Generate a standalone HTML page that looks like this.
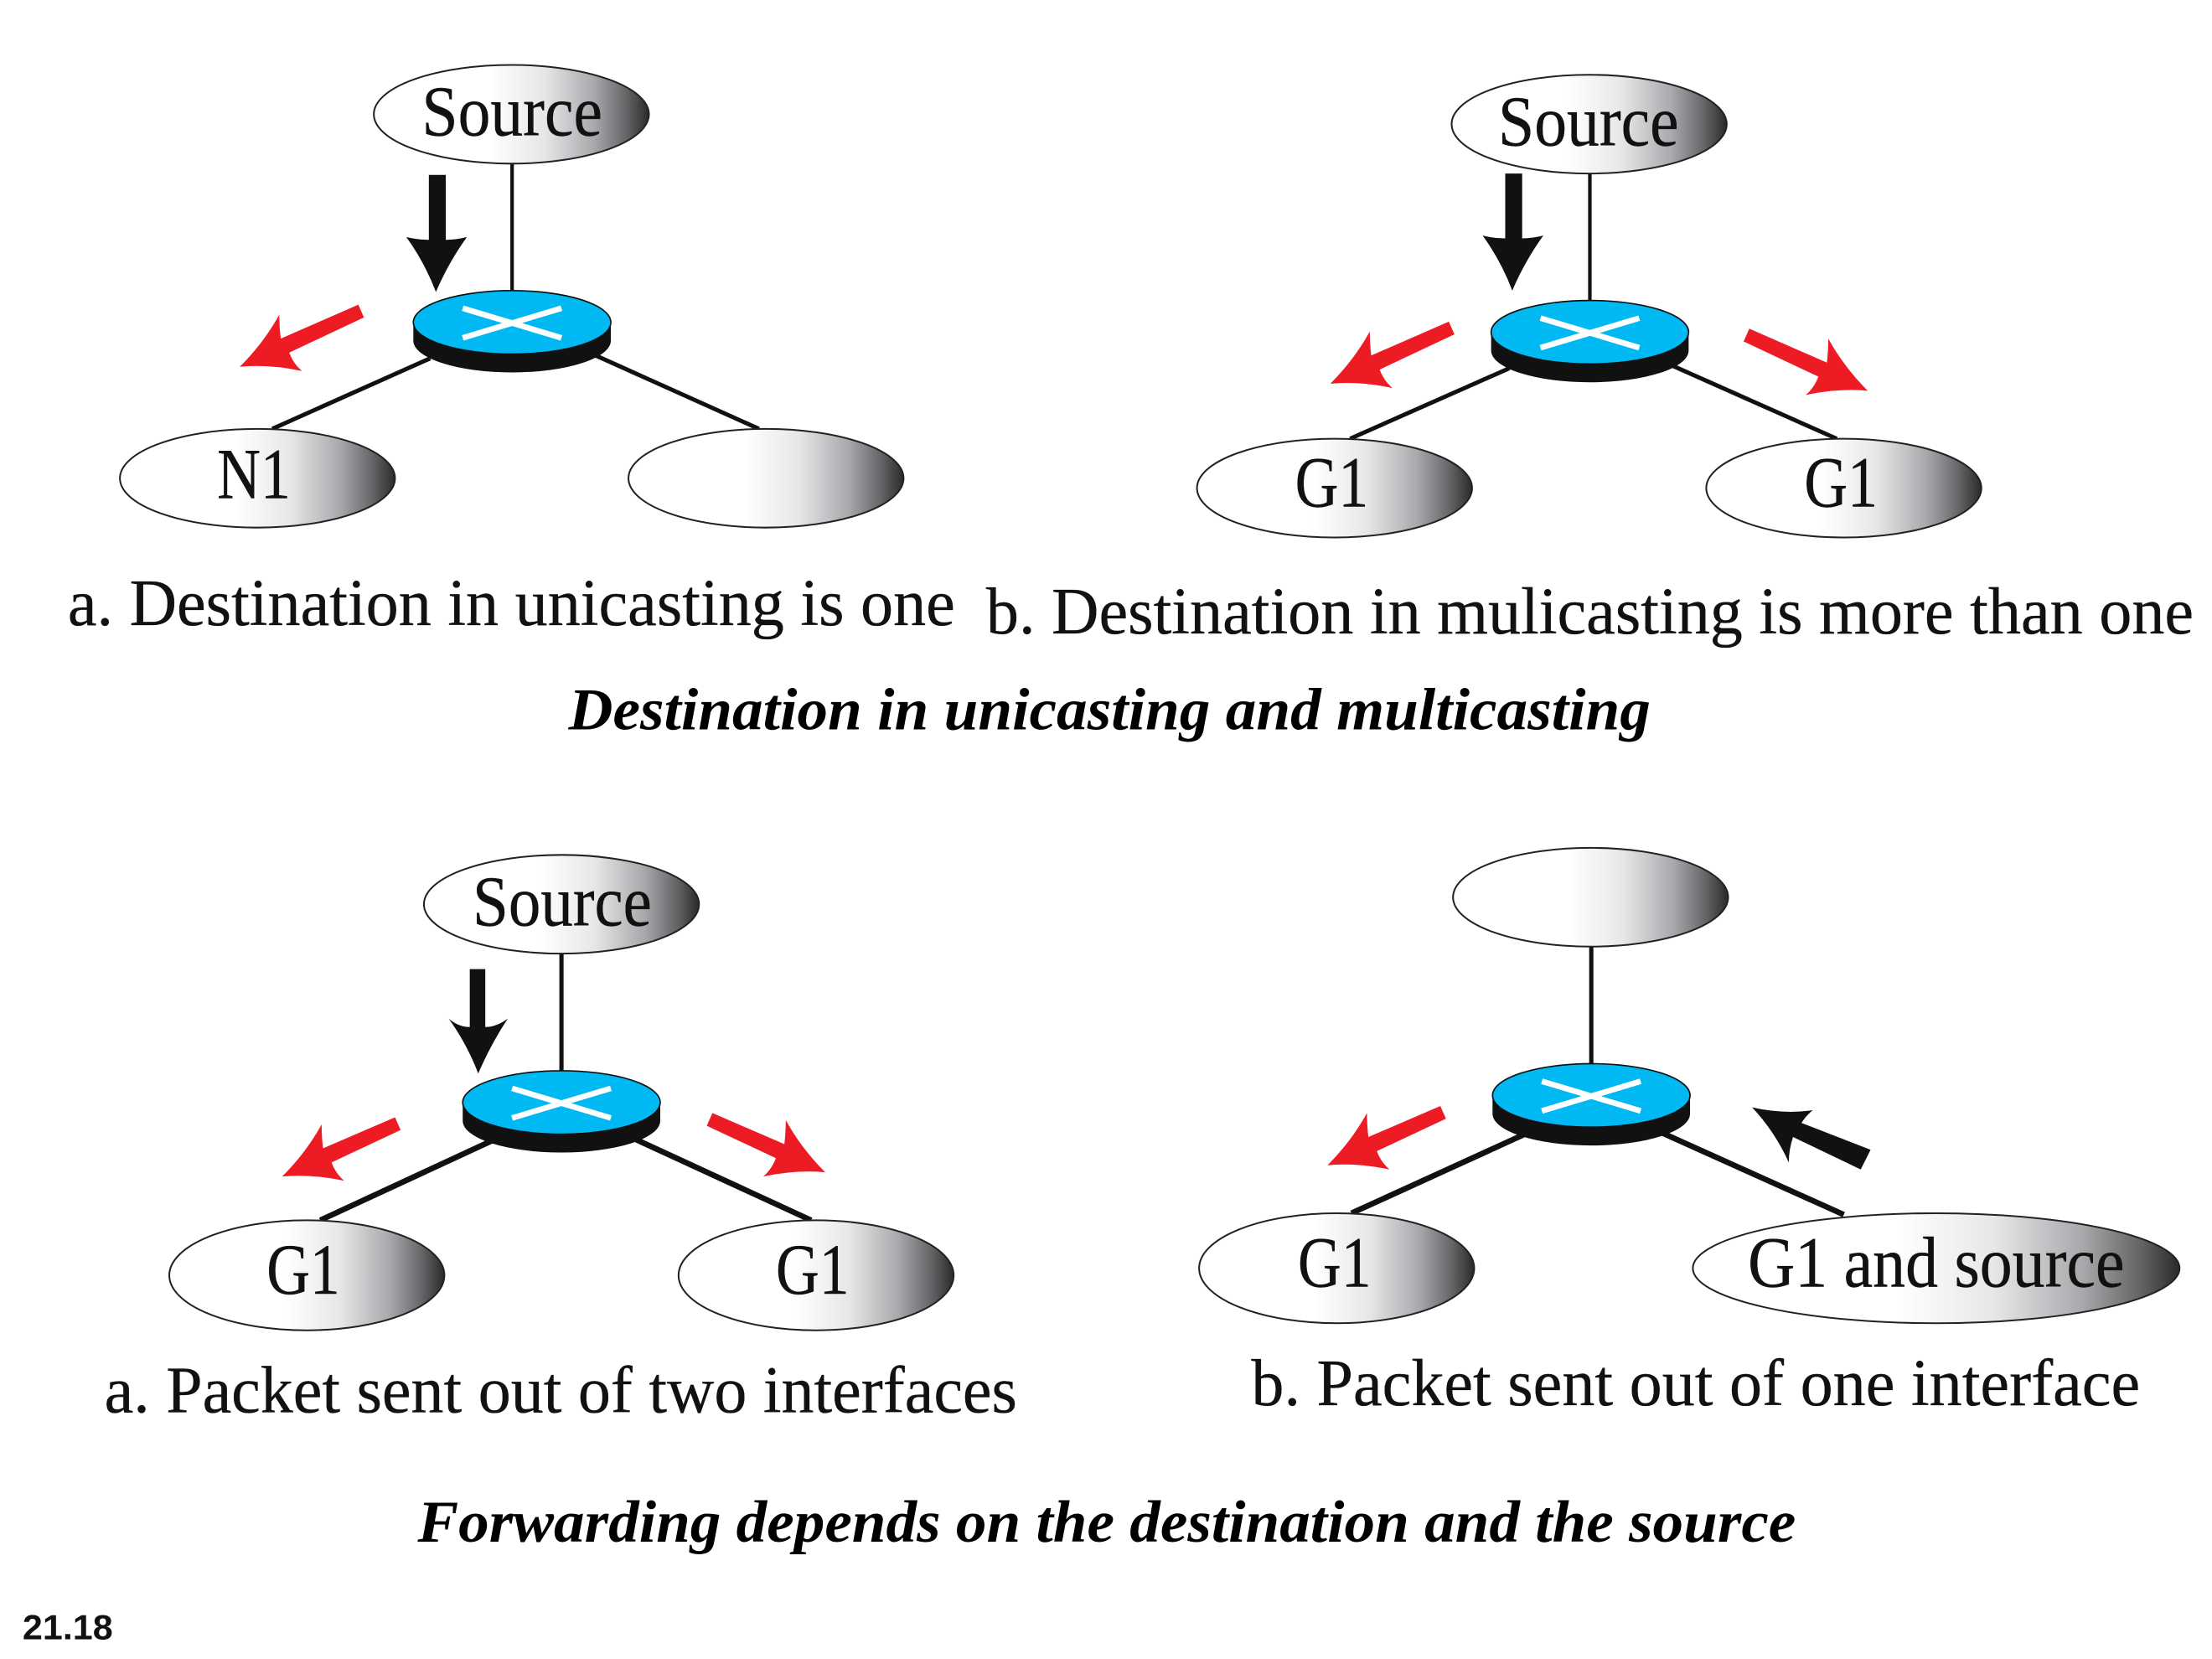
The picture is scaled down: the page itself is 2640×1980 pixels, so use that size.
<!DOCTYPE html>
<html><head><meta charset="utf-8"><style>
html,body{margin:0;padding:0;background:#fff}
svg{display:block}
text{font-family:"Liberation Serif",serif;fill:#111}
.n{font-size:51px;stroke:#111;stroke-width:.25px}
.c{font-size:47px;stroke:#111;stroke-width:.2px}
.t{font-size:42px;font-weight:bold;font-style:italic;fill:#000}
</style></head><body>
<svg width="2640" height="1980" viewBox="0 0 1568 1176" xmlns="http://www.w3.org/2000/svg">
<defs>
<linearGradient id="g" x1="0" x2="1" y1="0" y2="0">
<stop offset="0" stop-color="#fff"/><stop offset=".42" stop-color="#fff"/><stop offset=".62" stop-color="#e6e7e8"/><stop offset=".8" stop-color="#a7a9ac"/><stop offset=".92" stop-color="#636466"/><stop offset="1" stop-color="#2a2a2a"/>
</linearGradient>
<g id="r">
<path d="M-70 0V13A70 22.5 0 0 0 70 13V0Z" fill="#111"/>
<ellipse rx="70" ry="22.5" fill="#00b9f2" stroke="#111" stroke-width="1"/>
<path d="M-35 -10L35 11M-35 11L35 -10" stroke="#fff" stroke-width="4"/>
</g>
<path id="red" d="M254 216L258 225L205 250Q208 258 214 263Q190 258 170 260Q187 243 198 223Q198 232 199 240Z" fill="#ed1c24"/>
<path id="red2" d="M250 218L254 227L205 250Q208 258 214 263Q190 258 170 260Q187 243 198 223Q198 232 199 240Z" fill="#ed1c24"/>
<path id="blk" d="M304 124H316V170Q323 170 331 168Q318 186 309 207Q301 186 288 168Q296 170 304 170Z" fill="#111"/>
</defs>

<g stroke="#111" fill="none">
<path d="M363 116V206" stroke-width="2.5"/>
<path d="M193 304L305 254M538 304L420 251" stroke-width="3"/>
<path d="M1127 123V213" stroke-width="2.5"/>
<path d="M957 311L1070 261M1302 311L1185 259" stroke-width="3"/>
<path d="M398 676V759" stroke-width="3"/>
<path d="M227 865L350 808M575 865L447 806" stroke-width="4"/>
<path d="M1128 671V754" stroke-width="3"/>
<path d="M958 860L1083 803M1307 861L1178 803" stroke-width="4"/>
</g>

<g fill="url(#g)" stroke="#222" stroke-width="1.2">
<ellipse cx="362.500" cy="81" rx="97.500" ry="35"/>
<ellipse cx="182.500" cy="339" rx="97.500" ry="35"/>
<ellipse cx="543" cy="339" rx="97.500" ry="35"/>
<ellipse cx="1126.500" cy="88" rx="97.500" ry="35"/>
<ellipse cx="946" cy="346" rx="97.500" ry="35"/>
<ellipse cx="1307" cy="346" rx="97.500" ry="35"/>
<ellipse cx="398" cy="641" rx="97.500" ry="35"/>
<ellipse cx="217.500" cy="904" rx="97.500" ry="39"/>
<ellipse cx="578.500" cy="904" rx="97.500" ry="39"/>
<ellipse cx="1127.500" cy="636" rx="97.500" ry="35"/>
<ellipse cx="947.500" cy="899" rx="97.500" ry="39"/>
<ellipse cx="1372.500" cy="899" rx="172.500" ry="39"/>
</g>

<use href="#r" x="363" y="228.500"/>
<use href="#r" x="1127" y="235.500"/>
<use href="#r" x="398" y="781.500"/>
<use href="#r" x="1128" y="776.500"/>

<use href="#blk"/>
<use href="#blk" x="763" y="-1"/>
<path d="M333 687H344V728Q352 728 360 722Q348 740 339 761Q331 740 318 722Q325 728 333 728Z" fill="#111"/>
<path d="M1326 815L1319 829L1271 806Q1268 815 1268 824Q1258 802 1242 785Q1264 790 1285 787Q1280 791 1277 796Z" fill="#111"/>

<use href="#red"/>
<use href="#red" x="773" y="12"/>
<use href="#red2" x="30" y="574"/>
<use href="#red2" x="771" y="566"/>
<use href="#red" transform="translate(1494 17) scale(-1 1)"/>
<use href="#red2" transform="translate(755 571) scale(-1 1)"/>

<text class="n" x="299" y="96" textLength="128" lengthAdjust="spacingAndGlyphs">Source</text>
<text class="n" x="154" y="353" textLength="52" lengthAdjust="spacingAndGlyphs">N1</text>
<text class="n" x="1062" y="103" textLength="128" lengthAdjust="spacingAndGlyphs">Source</text>
<text class="n" x="918" y="359" textLength="52" lengthAdjust="spacingAndGlyphs">G1</text>
<text class="n" x="1279" y="359" textLength="52" lengthAdjust="spacingAndGlyphs">G1</text>
<text class="n" x="335" y="656" textLength="127" lengthAdjust="spacingAndGlyphs">Source</text>
<text class="n" x="189" y="917" textLength="52" lengthAdjust="spacingAndGlyphs">G1</text>
<text class="n" x="550" y="917" textLength="52" lengthAdjust="spacingAndGlyphs">G1</text>
<text class="n" x="920" y="912" textLength="52" lengthAdjust="spacingAndGlyphs">G1</text>
<text class="n" x="1239" y="912" textLength="267" lengthAdjust="spacingAndGlyphs">G1 and source</text>

<text class="c" x="48" y="443" textLength="629" lengthAdjust="spacingAndGlyphs">a. Destination in unicasting is one</text>
<text class="c" x="699" y="449" textLength="856" lengthAdjust="spacingAndGlyphs">b. Destination in mulicasting is more than one</text>
<text class="t" x="403" y="517" textLength="767" lengthAdjust="spacingAndGlyphs">Destination in unicasting and multicasting</text>
<text class="c" x="74" y="1001" textLength="647" lengthAdjust="spacingAndGlyphs">a. Packet sent out of two interfaces</text>
<text class="c" x="887" y="996" textLength="630" lengthAdjust="spacingAndGlyphs">b. Packet sent out of one interface</text>
<text class="t" x="296" y="1093" textLength="977" lengthAdjust="spacingAndGlyphs">Forwarding depends on the destination and the source</text>
<text x="16" y="1162" textLength="64" lengthAdjust="spacingAndGlyphs" style="font-family:'Liberation Sans',sans-serif;font-weight:bold;font-size:25px;fill:#111">21.18</text>
</svg>
</body></html>
